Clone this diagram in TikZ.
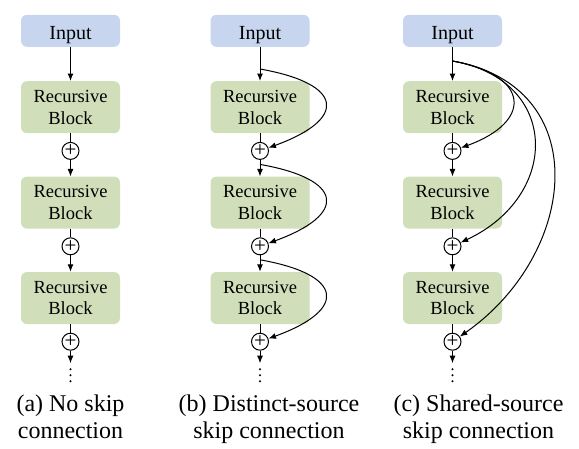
\documentclass[tikz,border=0pt]{standalone}
\usepackage{fontspec}
\setmainfont{Liberation Serif}
\usepackage{xcolor}
\usetikzlibrary{arrows.meta, positioning}
\definecolor{inblue}{HTML}{C7D6EE}
\definecolor{blkgreen}{HTML}{D0DFBA}
\tikzstyle{inputbox} = [rectangle, minimum width=99pt, minimum height=32pt, text centered, fill=inblue, rounded corners=6pt, inner sep=0pt, font=\fontsize{20}{22}\selectfont, text height=17pt, text depth=0pt]
\tikzstyle{block} = [rectangle, minimum width=99pt, minimum height=52pt, align=center, fill=blkgreen, rounded corners=6pt, inner sep=0pt, font=\fontsize{18.5}{21.7}\selectfont]
\tikzstyle{plus} = [circle, draw=black, line width=1pt, minimum size=17pt, inner sep=0pt, font=\fontsize{21}{21}\selectfont]
\tikzstyle{arrow} = [line width=1pt, -{Latex[length=7.5pt, width=6pt]}]
\tikzstyle{plain} = [line width=1pt]
\tikzstyle{skiparrow} = [arrow]
\tikzstyle{dotline} = [line width=2.4pt, line cap=round, dash pattern=on 0pt off 6pt]
\tikzstyle{caption} = [align=center, inner sep=0pt, font=\fontsize{24}{27.5}\selectfont]

\begin{document}
\begin{tikzpicture}[x=1pt, y=1pt]
    \useasboundingbox (0,0) rectangle (579,-448);

    % (a) no skip connection
    \node (a-in) [inputbox] at (70.5,-30.8) {Input};
    \node (a-b1) [block, below=34pt of a-in] {Recursive\\Block};
    \node (a-p1) [plus, below=8.5pt of a-b1] {+};
    \node (a-b2) [block, below=16.5pt of a-p1] {Recursive\\Block};
    \node (a-p2) [plus, below=8.5pt of a-b2] {+};
    \node (a-b3) [block, below=16.5pt of a-p2] {Recursive\\Block};
    \node (a-p3) [plus, below=8.5pt of a-b3] {+};
    \coordinate [below=12.5pt of a-p3] (a-end);
    \coordinate [below=6pt of a-end] (a-d1);
    \coordinate [below=19pt of a-end] (a-d2);
    \node (a-cap) [caption, below=12pt of a-d2] {(a) No skip\\connection};

    % (b) distinct-source skip connection
    \node (b-in) [inputbox] at (260,-30.8) {Input};
    \node (b-b1) [block, below=34pt of b-in] {Recursive\\Block};
    \node (b-p1) [plus, below=8.5pt of b-b1] {+};
    \node (b-b2) [block, below=16.5pt of b-p1] {Recursive\\Block};
    \node (b-p2) [plus, below=8.5pt of b-b2] {+};
    \node (b-b3) [block, below=16.5pt of b-p2] {Recursive\\Block};
    \node (b-p3) [plus, below=8.5pt of b-b3] {+};
    \coordinate [below=12.5pt of b-p3] (b-end);
    \coordinate [below=6pt of b-end] (b-d1);
    \coordinate [below=19pt of b-end] (b-d2);
    \coordinate [below=22pt of b-in] (b-s1);
    \coordinate [below=4.5pt of b-p1] (b-s2);
    \coordinate [below=4.5pt of b-p2] (b-s3);
    \node (b-cap) [caption, below=12pt of b-d2, xshift=9pt] {(b) Distinct-source\\skip connection};

    % (c) shared-source skip connection
    \node (c-in) [inputbox] at (452.5,-30.8) {Input};
    \node (c-b1) [block, below=34pt of c-in] {Recursive\\Block};
    \node (c-p1) [plus, below=8.5pt of c-b1] {+};
    \node (c-b2) [block, below=16.5pt of c-p1] {Recursive\\Block};
    \node (c-p2) [plus, below=8.5pt of c-b2] {+};
    \node (c-b3) [block, below=16.5pt of c-p2] {Recursive\\Block};
    \node (c-p3) [plus, below=8.5pt of c-b3] {+};
    \coordinate [below=12.5pt of c-p3] (c-end);
    \coordinate [below=6pt of c-end] (c-d1);
    \coordinate [below=19pt of c-end] (c-d2);
    \coordinate [below=14pt of c-in] (c-s);
    \node (c-cap) [caption, below=12pt of c-d2, xshift=26pt] {(c) Shared-source\\skip connection};

    % Arrows (a)
    \draw [arrow] (a-in) -- (a-b1);
    \draw [plain] (a-b1) -- (a-p1);
    \draw [arrow] (a-p1) -- (a-b2);
    \draw [plain] (a-b2) -- (a-p2);
    \draw [arrow] (a-p2) -- (a-b3);
    \draw [plain] (a-b3) -- (a-p3);
    \draw [arrow] (a-p3) -- (a-end);
    \draw [dotline] (a-d1) -- (a-d2);

    % Arrows (b)
    \draw [arrow] (b-in) -- (b-b1);
    \draw [plain] (b-b1) -- (b-p1);
    \draw [arrow] (b-p1) -- (b-b2);
    \draw [plain] (b-b2) -- (b-p2);
    \draw [arrow] (b-p2) -- (b-b3);
    \draw [plain] (b-b3) -- (b-p3);
    \draw [arrow] (b-p3) -- (b-end);
    \draw [dotline] (b-d1) -- (b-d2);
    \draw [skiparrow] (b-s1) to[out=-10, in=20, out distance=85pt, in distance=85pt] (b-p1);
    \draw [skiparrow] (b-s2) to[out=-10, in=20, out distance=85pt, in distance=85pt] (b-p2);
    \draw [skiparrow] (b-s3) to[out=-10, in=20, out distance=85pt, in distance=85pt] (b-p3);

    % Arrows (c)
    \draw [arrow] (c-in) -- (c-b1);
    \draw [plain] (c-b1) -- (c-p1);
    \draw [arrow] (c-p1) -- (c-b2);
    \draw [plain] (c-b2) -- (c-p2);
    \draw [arrow] (c-p2) -- (c-b3);
    \draw [plain] (c-b3) -- (c-p3);
    \draw [arrow] (c-p3) -- (c-end);
    \draw [dotline] (c-d1) -- (c-d2);
    \draw [skiparrow] (c-s) to[out=-10, in=20, out distance=78pt, in distance=78pt] (c-p1);
    \draw [skiparrow] (c-s) to[out=-10, in=25, out distance=110pt, in distance=110pt] (c-p2);
    \draw [skiparrow] (c-s) to[out=-10, in=35, out distance=145pt, in distance=145pt] (c-p3);
\end{tikzpicture}
\end{document}
